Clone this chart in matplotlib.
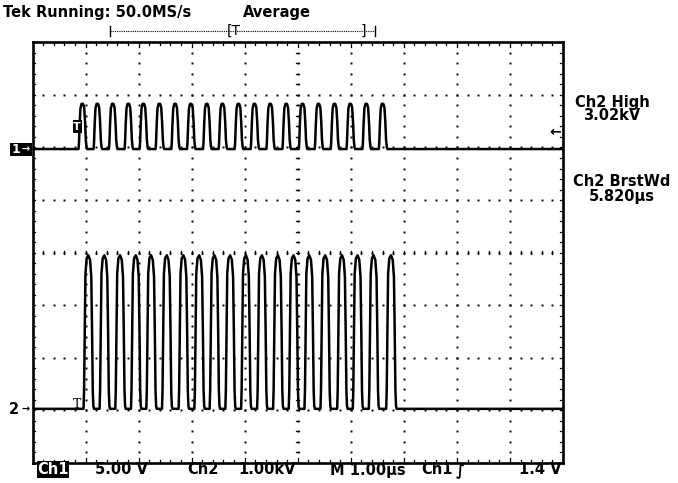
import numpy as np
import matplotlib
matplotlib.use("Agg")
import matplotlib.pyplot as plt
from matplotlib.patches import Rectangle

# ---------------- data (read from the screen) ----------------
# time axis: 10 divisions of 1.00 us
t_start_us, t_end_us = 0.0, 10.0
# pulse peak times (us from left edge of screen)
ch1_peaks_us = [0.940, 1.223, 1.513, 1.808, 2.091, 2.392, 2.689, 2.985, 3.287, 3.581,
                3.883, 4.185, 4.481, 4.783, 5.091, 5.392, 5.694, 5.991, 6.292, 6.600]
ch2_peaks_us = [1.053, 1.355, 1.651, 1.947, 2.236, 2.532, 2.845, 3.142, 3.430, 3.726,
                4.023, 4.325, 4.626, 4.921, 5.217, 5.519, 5.834, 6.128, 6.430, 6.758]
# pulse shape: offsets from peak (us) and fraction of pulse height
ch1_shape_dt = [-0.072, -0.063, -0.051, -0.036, -0.015, 0.012, 0.034, 0.051, 0.065, 0.079, 0.090]
ch1_shape_f  = [0.0, 0.15, 0.55, 0.90, 1.0, 1.0, 0.92, 0.60, 0.20, 0.04, 0.0]
ch2_shape_dt = [-0.091, -0.081, -0.068, -0.055, -0.032, 0.0, 0.032, 0.055, 0.070, 0.083, 0.094, 0.106]
ch2_shape_f  = [0.0, 0.12, 0.50, 0.88, 0.98, 1.0, 0.97, 0.86, 0.50, 0.12, 0.02, 0.0]
ch1_high_V = 4.3      # Ch1 pulse amplitude (V)
ch2_high_kV = 2.92    # Ch2 pulse amplitude (kV)
ch1_scale_V = 5.0     # V/div
ch2_scale_kV = 1.0    # kV/div
ch1_offset_div = 1.97
ch2_offset_div = -2.97

W, H = 678, 483
fig = plt.figure(figsize=(W / 100, H / 100), dpi=100)
fig.patch.set_facecolor("white")
L, R, T, B = 32.5, 563, 42.3, 463
ax = fig.add_axes([L / W, 1 - B / H, (R - L) / W, (B - T) / H])
ax.set_xlim(0, 10)
ax.set_ylim(-4, 4)
ax.set_xticks([]); ax.set_yticks([])
for s in ax.spines.values():
    s.set_linewidth(1.9)
    s.set_color("black")


def build(peaks, dts, fs, amp):
    ts = [t_start_us]
    vs = [0.0]
    for p in peaks:
        for d, f in zip(dts, fs):
            ts.append(p + d)
            vs.append(f * amp)
    ts.append(t_end_us)
    vs.append(0.0)
    return np.array(ts), np.array(vs)


# graticule dots
minor = np.arange(0, 10.001, 0.2)
minor_y = np.arange(-4, 4.001, 0.2)
for gx in range(1, 10):
    ax.plot(np.full_like(minor_y, gx), minor_y, ls="none", marker="s", ms=1.4,
            color="black", mew=0)
for gy in range(-3, 4):
    ax.plot(minor, np.full_like(minor, gy), ls="none", marker="s", ms=1.4,
            color="black", mew=0)
# centre-line ticks (small)
dx = 0.03
for x in minor:
    ax.plot([x, x], [-dx, dx], color="black", lw=0.9)
for y in minor_y:
    ax.plot([5 - dx, 5 + dx], [y, y], color="black", lw=0.9)
# border ticks
for x in minor:
    ln = 0.09 if abs(x - round(x)) < 1e-6 else 0.055
    ax.plot([x, x], [4, 4 - ln], color="black", lw=0.9)
    ax.plot([x, x], [-4, -4 + ln], color="black", lw=0.9)
for y in minor_y:
    ax.plot([0, 0.055], [y, y], color="black", lw=0.9)
    ax.plot([10, 10 - 0.055], [y, y], color="black", lw=0.9)

# traces
t1, v1 = build(ch1_peaks_us, ch1_shape_dt, ch1_shape_f, ch1_high_V)
t2, v2 = build(ch2_peaks_us, ch2_shape_dt, ch2_shape_f, ch2_high_kV)
ax.plot(t1, ch1_offset_div + v1 / ch1_scale_V, color="black", lw=1.8)
ax.plot(t2, ch2_offset_div + v2 / ch2_scale_kV, color="black", lw=1.8)


def fx(px):
    return px / W


def fy(py):
    return 1 - py / H


# trigger markers on traces
fig.add_artist(Rectangle((fx(72.5), fy(133)), fx(9), 13 / H, fc="black", ec="none"))
fig.text(fx(77), fy(126.5), "T", fontsize=8, fontweight="bold", color="white",
         ha="center", va="center")
fig.text(fx(77), fy(404), "T", fontsize=9, family="DejaVu Serif",
         color="black", ha="center", va="center")
# trigger level arrow at right
fig.text(fx(555), fy(132), "\u2190", fontsize=10, fontweight="bold",
         ha="center", va="center")

font = dict(family="DejaVu Sans", fontsize=10.5, fontweight="bold", color="black")
fig.text(fx(3), fy(12), "Tek Running: 50.0MS/s", va="center", ha="left", **font)
fig.text(fx(243), fy(12), "Average", va="center", ha="left", **font)

# record bar
fig.add_artist(plt.Line2D([fx(110), fx(375)], [fy(31), fy(31)], color="black", lw=0.8,
                          ls=(0, (1, 1))))
fig.add_artist(plt.Line2D([fx(110), fx(110)], [fy(26), fy(36)], color="black", lw=1))
fig.add_artist(plt.Line2D([fx(375), fx(375)], [fy(26), fy(36)], color="black", lw=1))
fig.text(fx(234), fy(31), "[T", va="center", ha="center", family="DejaVu Sans",
         fontsize=10)
fig.text(fx(363), fy(31), "]", va="center", ha="center", family="DejaVu Sans",
         fontsize=10)

# channel markers at left
fig.add_artist(Rectangle((fx(10), fy(156)), fx(22), 13 / H, fc="black", ec="none"))
fig.text(fx(16), fy(149.5), "1", va="center", ha="center", fontsize=9, fontweight="bold",
         color="white")
fig.text(fx(26), fy(149.5), "\u2192", va="center", ha="center", fontsize=7,
         fontweight="bold", color="white")
fig.text(fx(14), fy(409), "2", va="center", ha="center", fontsize=10.5, fontweight="bold")
fig.text(fx(26), fy(409), "\u2192", va="center", ha="center", fontsize=7,
         fontweight="bold")

# right-hand measurements
rfont = dict(family="DejaVu Sans", fontsize=10.5, fontweight="bold", color="black")
fig.text(fx(612), fy(102), "Ch2 High", va="center", ha="center", **rfont)
fig.text(fx(612), fy(116), "3.02kV", va="center", ha="center", **rfont)
fig.text(fx(622), fy(182), "Ch2 BrstWd", va="center", ha="center", **rfont)
fig.text(fx(622), fy(196), "5.820\u00b5s", va="center", ha="center", **rfont)

# bottom status line
yb = fy(470)
fig.add_artist(Rectangle((fx(37), fy(478)), fx(32), 17 / H, fc="black", ec="none"))
fig.text(fx(53), yb, "Ch1", va="center", ha="center", fontsize=10.5, fontweight="bold",
         color="white")
fig.text(fx(95), yb, "5.00 V", va="center", ha="left", **font)
fig.text(fx(187), yb, "Ch2", va="center", ha="left", **font)
fig.text(fx(238), yb, "1.00kV", va="center", ha="left", **font)
fig.text(fx(330), yb, "M 1.00\u00b5s", va="center", ha="left", **font)
fig.text(fx(421), yb, "Ch1", va="center", ha="left", **font)
fig.text(fx(456), yb, "\u222b", va="center", ha="left", **font)
fig.text(fx(519), yb, "1.4 V", va="center", ha="left", **font)

fig.savefig("out.png", dpi=100)
